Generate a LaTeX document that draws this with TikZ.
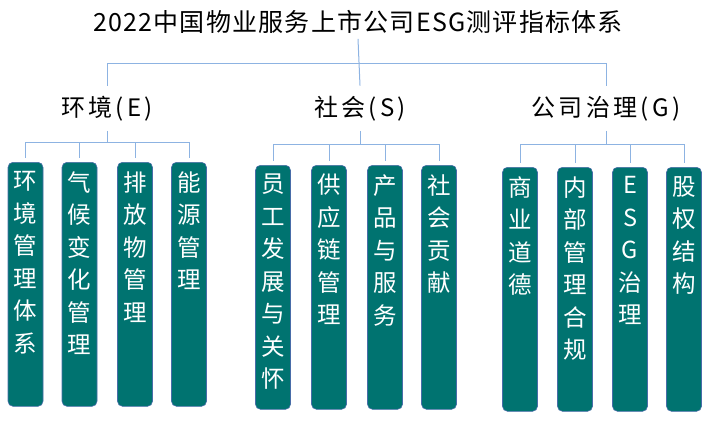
\documentclass[tikz,border=0pt]{standalone}
\usepackage{fontspec}
\setmainfont{Noto Sans CJK SC}
\newfontfamily\titlefont[LetterSpace=5]{Noto Sans CJK SC}
\newfontfamily\headfont[LetterSpace=14]{Noto Sans CJK SC}
\usepackage{xcolor}
\usepackage{tikz}
\usetikzlibrary{positioning}
\definecolor{leaffill}{RGB}{0,115,112}
\definecolor{leafline}{RGB}{72,108,168}
\definecolor{linkblue}{RGB}{141,179,226}
\newcommand{\vlabel}[1]{\parbox[t][226pt][t]{32pt}{\centering\fontsize{23.5}{32.5}\selectfont #1}}

\begin{document}
\begin{tikzpicture}[x=1pt, y=-1pt,
            leaf/.style={draw=leafline, line width=0.6pt, fill=leaffill, rounded corners=5pt, text=white, inner xsep=1.5pt, inner ysep=9pt, minimum width=35pt, anchor=north},
            head/.style={font=\headfont\fontsize{24}{26}\selectfont, inner ysep=10pt, anchor=base},
            link/.style={draw=linkblue, line width=1pt},
            drop/.style={link, shorten >=4pt}]

            \useasboundingbox (0,0) rectangle (712,424);

            \node[font=\titlefont\fontsize{25}{28}\selectfont, inner sep=5pt] (title) at (358,22) {2022中国物业服务上市公司ESG测评指标体系};

            \node[head] (env) at (107,116) {环境(E)};
            \node[head] (soc) at (360,116) {社会(S)};
            \node[head] (gov) at (606,116) {公司治理(G)};

            % environment
            \node[leaf] (e1) at (25.5,162) {\vlabel{环\\境\\管\\理\\体\\系}};
            \node[leaf] (e2) at (79.5,162) {\vlabel{气\\候\\变\\化\\管\\理}};
            \node[leaf] (e3) at (135,162) {\vlabel{排\\放\\物\\管\\理}};
            \node[leaf] (e4) at (189,162) {\vlabel{能\\源\\管\\理}};

            % social
            \node[leaf] (s1) at (273,165) {\vlabel{员\\工\\发\\展\\与\\关\\怀}};
            \node[leaf] (s2) at (329,165) {\vlabel{供\\应\\链\\管\\理}};
            \node[leaf] (s3) at (385,165) {\vlabel{产\\品\\与\\服\\务}};
            \node[leaf] (s4) at (439,165) {\vlabel{社\\会\\贡\\献}};

            % governance
            \node[leaf] (g1) at (520,167) {\vlabel{商\\业\\道\\德}};
            \node[leaf] (g2) at (575,167) {\vlabel{内\\部\\管\\理\\合\\规}};
            \node[leaf] (g3) at (630,167) {\vlabel{E\\S\\G\\治\\理}};
            \node[leaf] (g4) at (684,167) {\vlabel{股\\权\\结\\构}};

            \coordinate (topbus) at (358,63);
            \coordinate (ebus) at (107,142);
            \coordinate (sbus) at (360,144);
            \coordinate (gbus) at (606,144);

            \draw[link] (title.south) -- (soc.north);
            \draw[link] (topbus) -| (env.north);
            \draw[link] (topbus) -| (gov.north);

            \draw[link] (env.south) -- (ebus);
            \draw[link] (soc.south) -- (sbus);
            \draw[link] (gov.south) -- (gbus);

            \foreach \b/\g in {ebus/e, sbus/s, gbus/g} {
                \draw[link] (\b -| \g1) -- (\b -| \g4);
                \foreach \i in {1,...,4}
                    \draw[drop] (\b -| \g\i) -- (\g\i.north);
            }
        \end{tikzpicture}
\end{document}
